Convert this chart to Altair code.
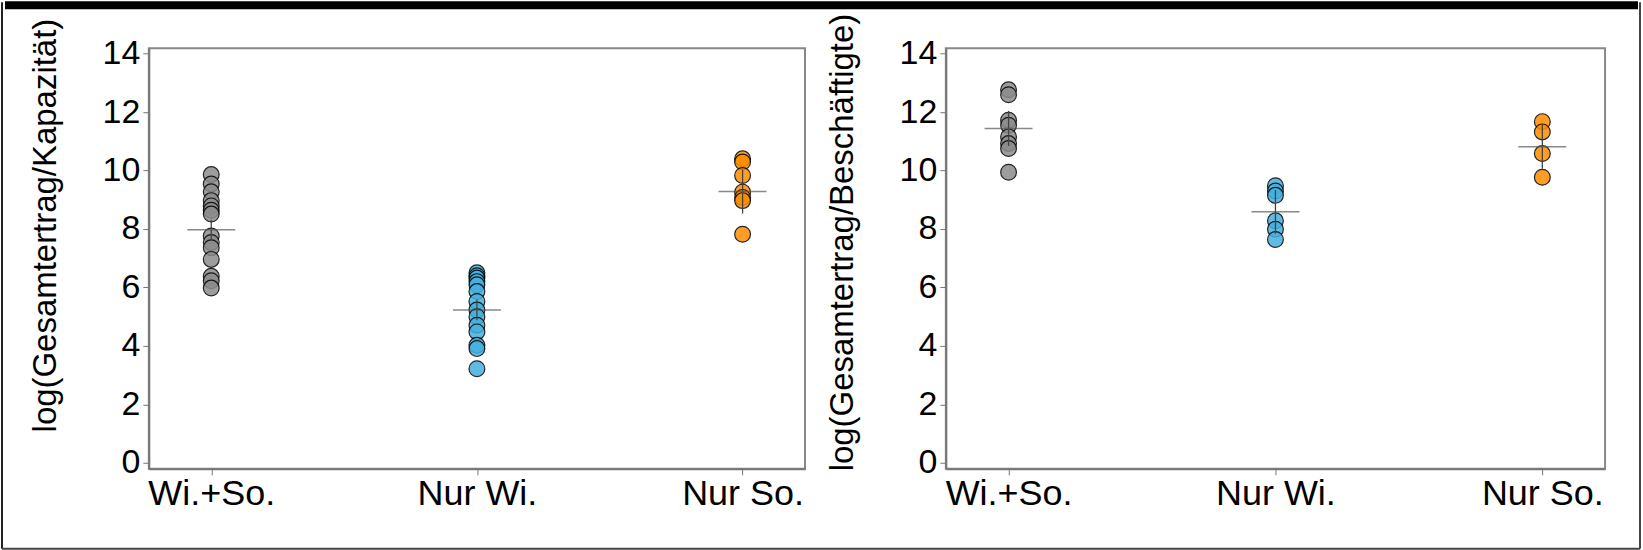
import altair as alt
import pandas as pd

groups = ["Wi.+So.", "Nur Wi.", "Nur So."]
colors = ["#8c8c8c", "#45b0df", "#ff8c00"]

# Panel 1: log(Gesamtertrag/Kapazität)
kap_wiso = [9.86, 9.54, 9.27, 8.97, 8.79, 8.64, 8.51, 7.76, 7.54, 7.36, 6.96, 6.38, 6.23, 5.98]
kap_wi = [6.5, 6.4, 6.32, 6.2, 6.09, 5.86, 5.52, 5.23, 5.0, 4.71, 4.48, 4.02, 3.91, 3.22]
kap_so = [10.4, 10.29, 9.83, 9.26, 9.08, 8.97, 7.82]
kap_mean = [7.97, 5.23, 9.28]
kap_err = [0.35, 0.35, 0.75]

# Panel 2: log(Gesamtertrag/Beschäftigte)
bes_wiso = [12.76, 12.59, 11.72, 11.55, 11.15, 10.92, 10.75, 9.94]
bes_wi = [9.48, 9.3, 9.15, 8.28, 7.99, 7.64]
bes_so = [11.67, 11.32, 10.58, 9.77]
bes_mean = [11.44, 8.59, 10.81]
bes_err = [0.6, 0.75, 0.75]

y_ticks = [0, 2, 4, 6, 8, 10, 12, 14]
FONT = "Liberation Sans"


def points_df(series):
    rows = []
    for g, vals in zip(groups, series):
        for v in vals:
            rows.append({"group": g, "value": v})
    return pd.DataFrame(rows)


def stats_df(means, errs):
    return pd.DataFrame({
        "group": groups,
        "mean": means,
        "lo": [m - e for m, e in zip(means, errs)],
        "hi": [m + e for m, e in zip(means, errs)],
    })


def panel(series, means, errs, title, width, title_y, border=False):
    xscale = alt.Scale(type="point", domain=groups, padding=0.235)
    x = alt.X("group:N", sort=groups, title=None, scale=xscale,
              axis=alt.Axis(labelAngle=0, labelFontSize=36, labelFont=FONT,
                            labelColor="black", tickSize=6, tickColor="#777",
                            domainColor="#777", domainWidth=2, labelPadding=2))
    yscale = alt.Scale(domain=[-0.2, 14.18], nice=False, zero=False)
    yaxis = alt.Axis(values=y_ticks, labelFontSize=34, labelFont=FONT,
                     labelColor="black", tickSize=6, tickColor="#777",
                     domainColor="#777", domainWidth=2, grid=False,
                     titleFontSize=33, titleFont=FONT, titleFontWeight="normal",
                     titleColor="black", titlePadding=40, labelPadding=3,
                     titleY=title_y)
    pts = alt.Chart(points_df(series)).mark_circle(
        size=250, opacity=0.85, stroke="black", strokeWidth=1.2
    ).encode(
        x=x,
        y=alt.Y("value:Q", scale=yscale, axis=yaxis, title=title),
        color=alt.Color("group:N", scale=alt.Scale(domain=groups, range=colors), legend=None),
    )
    st = alt.Chart(stats_df(means, errs))
    err = st.mark_rule(color="#444", strokeWidth=1.3).encode(
        x=alt.X("group:N", sort=groups, scale=xscale), y="lo:Q", y2="hi:Q")
    mean = st.mark_tick(color="#555", thickness=1.5, size=48).encode(
        x=alt.X("group:N", sort=groups, scale=xscale), y="mean:Q")
    layers = [pts, err, mean]
    if border:
        one = alt.Chart(pd.DataFrame({"a": [0]}))
        layers += [
            one.mark_rule(color="black", strokeWidth=8, clip=False).encode(
                x=alt.value(-144), x2=alt.value(1491), y=alt.value(-43)),
            one.mark_rule(color="#222", strokeWidth=2, clip=False).encode(
                x=alt.value(-147), y=alt.value(-46), y2=alt.value(501)),
            one.mark_rule(color="#444", strokeWidth=2, clip=False).encode(
                x=alt.value(1493), y=alt.value(-46), y2=alt.value(501)),
            one.mark_rule(color="#444", strokeWidth=2, clip=False).encode(
                x=alt.value(-147), x2=alt.value(1493), y=alt.value(501)),
        ]
    return alt.layer(*layers).properties(width=width, height=421)


left = panel([kap_wiso, kap_wi, kap_so], kap_mean, kap_err,
             "log(Gesamtertrag/Kapazität)", 657, 177, border=True)
right = panel([bes_wiso, bes_wi, bes_so], bes_mean, bes_err,
              "log(Gesamtertrag/Beschäftigte)", 660, 194)

chart = alt.hconcat(left, right, spacing=141, bounds="flush").properties(
    padding=0, background="white"
).configure_view(stroke="#888", strokeWidth=2)

chart.save("out.html", embed_options={"renderer": "svg", "actions": False})
